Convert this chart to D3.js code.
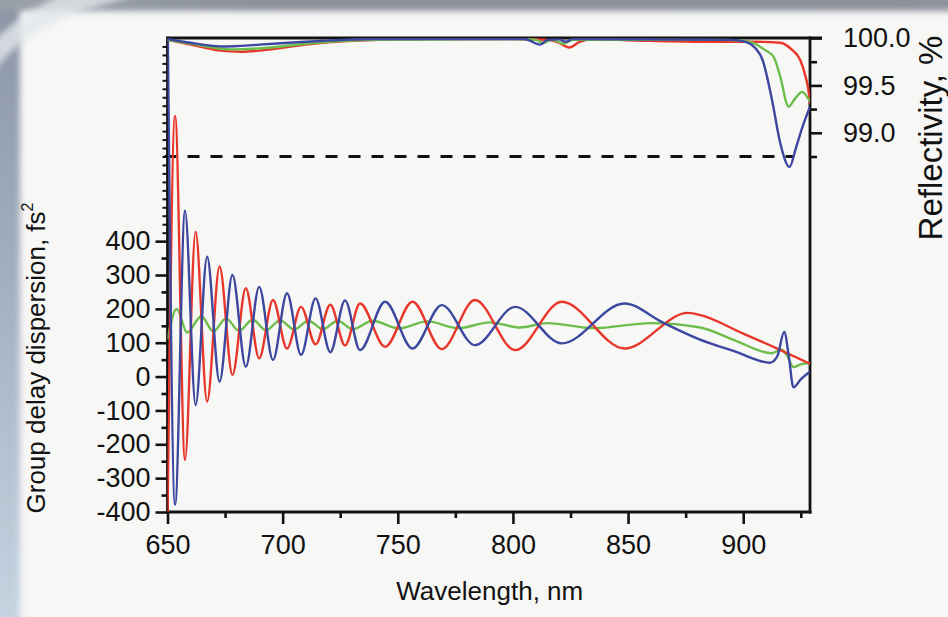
<!DOCTYPE html>
<html>
<head>
<meta charset="utf-8">
<script src="https://cdn.jsdelivr.net/npm/d3@7"></script>
<style>
  html, body { margin: 0; padding: 0; background: #f6f6f4; }
  svg { display: block; font-family: "Liberation Sans", Arial, Helvetica, sans-serif; }
</style>
</head>
<body>
<svg id="chart" width="948" height="617"></svg>
<script>
// ---- data ----
const wavelengthTicks = [650, 700, 750, 800, 850, 900];
const wavelengthMinor = [675, 725, 775, 825, 875, 925];
const gddTicks = [-400, -300, -200, -100, 0, 100, 200, 300, 400];
const gddMinor = [-350, -250, -150, -50, 50, 150, 250, 350];
const gddFine = [425, 450, 475, 500, 525, 550, 575, 600, 625, 650, 675, 700,
                 725, 750, 775, 800, 825, 850, 875, 900, 925, 950, 975];
const reflTicks = [99.0, 99.5, 100.0];
const reflMinor = [98.75, 99.25, 99.75];
const reflLimit = 98.75;

// group delay dispersion, fs^2  [wavelength nm, value]
const gddRed = [
  [650, -420], [653.3, 770], [657.6, -246], [662.2, 428], [667.2, -74], [672.6, 325],
  [678.2, 5], [684.0, 261], [689.8, 54], [695.8, 226], [701.9, 83], [708.0, 206],
  [714.3, 95], [720.7, 212], [727.1, 92], [733.6, 216], [744.5, 88], [756.4, 221],
  [769.1, 81], [783.5, 226], [801.0, 78], [821.2, 221], [848.4, 83], [876, 188],
  [881, 182], [900, 127], [915, 82], [929, 38]
];
const gddBlue = [
  [650, 1100], [653.3, -379], [657.6, 490], [662.2, -84], [667.2, 354], [672.6, -15],
  [678.2, 300], [684.0, 29], [689.8, 265], [695.8, 49], [701.9, 246], [708.0, 64],
  [714.3, 231], [720.7, 72], [727.1, 225], [733.6, 78], [744.5, 221], [756.4, 83],
  [769.1, 211], [783.5, 93], [801.0, 206], [821.2, 98], [848.4, 216], [865, 160],
  [881, 110], [896, 75], [911.7, 41], [914.8, 60], [917.8, 132], [919.8, 60],
  [921.8, -32], [925, -8], [929, 14]
];
const gddGreen = [
  [650, 110], [654, 200], [658.5, 130], [664.7, 178], [669.9, 133], [675.4, 172],
  [681.1, 135], [686.9, 168], [692.8, 137], [698.9, 166], [705.0, 139], [711.2, 165],
  [717.5, 140], [723.9, 165], [730.4, 140], [739.1, 165], [750.5, 142], [762.8, 163],
  [776.3, 143], [790, 160], [803, 145], [815, 158], [835, 143], [860, 158],
  [881.3, 145], [896, 108], [912.5, 69], [916.5, 80], [919, 62], [921.8, 28],
  [925, 36], [929, 40]
];

// reflectivity, %
const reflRed = [
  [650, 99.98], [660, 99.93], [672, 99.87], [682, 99.855], [695, 99.88], [710, 99.93],
  [730, 99.97], [760, 99.99], [800, 99.99], [815, 99.98], [820, 99.95], [824.5, 99.9],
  [829, 99.96], [835, 99.985], [860, 99.97], [890, 99.96], [905, 99.96], [916, 99.95],
  [921, 99.88], [924.7, 99.77], [927, 99.6], [928.3, 99.45], [929, 99.31]
];
const reflGreen = [
  [650, 99.98], [660, 99.94], [678, 99.88], [695, 99.9], [715, 99.95], [740, 99.98],
  [800, 99.99], [810, 99.98], [813, 99.95], [817, 99.98], [822, 99.94], [826, 99.98],
  [890, 99.98], [900, 99.97], [904, 99.95], [909, 99.88], [913.2, 99.8], [916, 99.6],
  [919.7, 99.275], [922.5, 99.36], [925.5, 99.43], [929, 99.33]
];
const reflBlue = [
  [650, 99.99], [660, 99.95], [674.5, 99.91], [690, 99.93], [710, 99.96], [740, 99.99],
  [805, 99.99], [811.8, 99.93], [815, 99.98], [820, 99.985], [823, 99.96], [826, 99.99],
  [895, 99.98], [901, 99.96], [905, 99.9], [908.4, 99.77], [912.8, 99.31], [916, 98.9],
  [920.1, 98.64], [923, 98.85], [926, 99.08], [929, 99.275]
];

const colors = { red: "#e8362b", blue: "#3c479f", green: "#6dbd4c" };

(() => {
  const width = 948, height = 617;
  const m = { left: 167.5, right: 810, top: 38, bottom: 512 };

  const svg = d3.select("#chart");
  const defs = svg.append("defs");

  // background: pale page with a grey-blue border strip on the left and top
  const gStrip = defs.append("linearGradient").attr("id", "strip").attr("x1", 0).attr("y1", 0).attr("x2", 0).attr("y2", 1);
  gStrip.append("stop").attr("offset", 0).attr("stop-color", "#8a94a4");
  gStrip.append("stop").attr("offset", 0.45).attr("stop-color", "#a3afbf");
  gStrip.append("stop").attr("offset", 1).attr("stop-color", "#c6d4e2");
  const gTop = defs.append("linearGradient").attr("id", "topband").attr("x1", 0).attr("y1", 0).attr("x2", 1).attr("y2", 0);
  gTop.append("stop").attr("offset", 0).attr("stop-color", "#9aa1ab");
  gTop.append("stop").attr("offset", 0.3).attr("stop-color", "#8b919a");
  gTop.append("stop").attr("offset", 1).attr("stop-color", "#8d929b");
  defs.append("filter").attr("id", "soft").attr("x", -0.5).attr("y", -0.5).attr("width", 2).attr("height", 2)
    .append("feGaussianBlur").attr("stdDeviation", 3);

  svg.append("rect").attr("width", width).attr("height", height).attr("fill", "#f7f7f5");
  svg.append("rect").attr("x", -10).attr("y", -10).attr("width", 30).attr("height", height + 20)
    .attr("fill", "url(#strip)").attr("filter", "url(#soft)");
  svg.append("rect").attr("x", -10).attr("y", -10).attr("width", width + 20).attr("height", 21)
    .attr("fill", "url(#topband)").attr("filter", "url(#soft)");
  svg.append("path").attr("d", "M-5,70 Q30,20 140,-5 L60,-5 Q20,15 -5,40 Z")
    .attr("fill", "#e4e8ec").attr("opacity", 0.8).attr("filter", "url(#soft)");

  // scales
  const x = d3.scaleLinear().domain([650, 929]).range([m.left, m.right]);
  const yG = d3.scaleLinear().domain([-400, 1000]).range([m.bottom, m.top]);
  const yR = d3.scaleLinear().domain([95, 100]).range([m.bottom, m.top]);

  defs.append("clipPath").attr("id", "plot")
    .append("rect").attr("x", m.left).attr("y", m.top)
    .attr("width", m.right - m.left).attr("height", m.bottom - m.top);

  const ink = "#121212";
  const styleAxis = (g, labelSize) => {
    g.select(".domain").remove();
    g.selectAll(".tick line").attr("stroke", ink).attr("stroke-width", 2.6);
    g.selectAll(".tick text").attr("fill", ink).style("font-size", labelSize + "px");
  };
  const plain = d => String(d); // hyphen-minus like the original

  // bottom axis
  svg.append("g").attr("transform", `translate(0,${m.bottom})`)
    .call(d3.axisBottom(x).tickValues(wavelengthMinor).tickSize(6).tickFormat(""))
    .call(g => styleAxis(g, 0));
  svg.append("g").attr("transform", `translate(0,${m.bottom})`)
    .call(d3.axisBottom(x).tickValues(wavelengthTicks).tickSize(12).tickPadding(11).tickFormat(plain))
    .call(g => styleAxis(g, 27));

  // left axis
  svg.append("g").attr("transform", `translate(${m.left},0)`)
    .call(d3.axisLeft(yG).tickValues(gddFine).tickSize(5).tickFormat(""))
    .call(g => styleAxis(g, 0))
    .call(g => g.selectAll(".tick line").attr("stroke-width", 2));
  svg.append("g").attr("transform", `translate(${m.left},0)`)
    .call(d3.axisLeft(yG).tickValues(gddMinor).tickSize(6).tickFormat(""))
    .call(g => styleAxis(g, 0));
  svg.append("g").attr("transform", `translate(${m.left},0)`)
    .call(d3.axisLeft(yG).tickValues(gddTicks).tickSize(12).tickPadding(5).tickFormat(plain))
    .call(g => styleAxis(g, 27));

  // right axis
  svg.append("g").attr("transform", `translate(${m.right},0)`)
    .call(d3.axisRight(yR).tickValues(reflMinor).tickSize(7).tickFormat(""))
    .call(g => styleAxis(g, 0));
  svg.append("g").attr("transform", `translate(${m.right},0)`)
    .call(d3.axisRight(yR).tickValues(reflTicks).tickSize(12).tickPadding(21).tickFormat(d3.format(".1f")))
    .call(g => styleAxis(g, 27));

  // frame
  const frame = svg.append("g").attr("stroke", ink).attr("stroke-width", 2.8).attr("fill", "none");
  frame.append("line").attr("x1", m.left).attr("x2", m.right + 12).attr("y1", m.top).attr("y2", m.top).attr("stroke-width", 3.2);
  frame.append("line").attr("x1", m.left).attr("x2", m.left).attr("y1", m.top - 1.5).attr("y2", m.bottom + 1.5);
  frame.append("line").attr("x1", m.right).attr("x2", m.right).attr("y1", m.top - 1.5).attr("y2", m.bottom + 1.5);
  frame.append("line").attr("x1", m.left - 1.5).attr("x2", m.right + 1.5).attr("y1", m.bottom).attr("y2", m.bottom);

  // dashed reflectivity limit
  svg.append("line")
    .attr("x1", m.left - 3).attr("x2", x(922))
    .attr("y1", yR(reflLimit)).attr("y2", yR(reflLimit))
    .attr("stroke", ink).attr("stroke-width", 3).attr("stroke-dasharray", "12,11");

  // curves
  const plot = svg.append("g").attr("clip-path", "url(#plot)");
  const gddLine = d3.line().x(d => x(d[0])).y(d => yG(d[1])).curve(d3.curveMonotoneX);
  const reflLine = d3.line().x(d => x(d[0])).y(d => yR(d[1])).curve(d3.curveMonotoneX);

  [[gddGreen, colors.green], [gddRed, colors.red], [gddBlue, colors.blue]].forEach(([data, c]) => {
    plot.append("path").datum(data).attr("d", gddLine)
      .attr("fill", "none").attr("stroke", c).attr("stroke-width", 2.4).attr("stroke-linejoin", "round");
  });
  [[reflRed, colors.red], [reflGreen, colors.green], [reflBlue, colors.blue]].forEach(([data, c]) => {
    plot.append("path").datum(data).attr("d", reflLine)
      .attr("fill", "none").attr("stroke", c).attr("stroke-width", 2.4).attr("stroke-linejoin", "round");
  });

  // titles
  svg.append("text")
    .attr("x", (m.left + m.right) / 2 + 1).attr("y", 600)
    .attr("text-anchor", "middle").attr("fill", ink).style("font-size", "26px")
    .text("Wavelength, nm");

  const yTitle = svg.append("text")
    .attr("transform", "translate(45,358) rotate(-90)")
    .attr("text-anchor", "middle").attr("fill", ink).style("font-size", "26px");
  yTitle.append("tspan").text("Group delay dispersion, fs");
  yTitle.append("tspan").attr("dy", -12).style("font-size", "16px").text("2");

  svg.append("text")
    .attr("transform", "translate(942,138) rotate(-90)")
    .attr("text-anchor", "middle").attr("fill", ink).style("font-size", "33px")
    .text("Reflectivity, %");
})();
</script>
</body>
</html>
